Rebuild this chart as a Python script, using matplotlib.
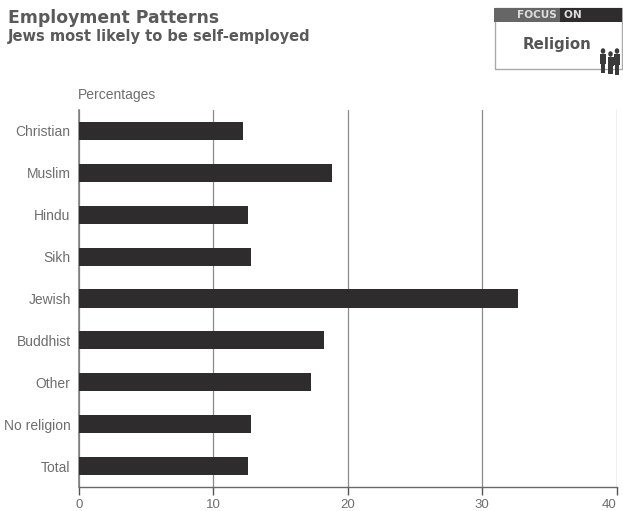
import matplotlib.pyplot as plt
from matplotlib.patches import Rectangle, Ellipse

#Data
religions = ['Christian', 'Muslim', 'Hindu', 'Sikh', 'Jewish', 'Buddhist', 'Other', 'No religion', 'Total']
percentages = [12.2, 18.8, 12.6, 12.8, 32.7, 18.2, 17.3, 12.8, 12.6]
x_ticks = [0, 10, 20, 30, 40]

W, H = 623, 511
dark = '#2e2c2d'
text_grey = '#6e6e6e'
plt.rcParams['font.family'] = 'Liberation Sans'

fig = plt.figure(figsize=(W / 100, H / 100), dpi=100)

# Main chart, placed in pixels of the reference
ax = fig.add_axes([79 / W, 1 - 487 / H, (616.5 - 79) / W, (487 - 110) / H])
ax.barh(range(len(religions)), percentages, height=0.43, color=dark, zorder=3)
ax.set_ylim(8.5, -0.5)
ax.set_xlim(0, 40)
ax.set_xticks(x_ticks)
ax.set_yticks(range(len(religions)))
ax.set_yticklabels(religions)
ax.tick_params(axis='y', length=0, pad=6, labelsize=10, labelcolor=text_grey)
ax.tick_params(axis='x', length=6, width=1, color='#555555', pad=2.5, labelsize=9.5, labelcolor=text_grey)
ax.grid(axis='x', color='#8a8a8a', linewidth=0.9, zorder=1)
for side in ['top', 'right']:
    ax.spines[side].set_visible(False)
ax.spines['left'].set_color('#808080')
ax.spines['left'].set_linewidth(1.2)
ax.spines['bottom'].set_color('#6a6a6a')
ax.spines['bottom'].set_linewidth(1)

# last tick label has to stay inside the picture
ax.get_xticklabels()[-1].set_ha('right')
ax.get_xticklabels()[-1].set_x(40)

# Titles
fig.text(8 / W, 1 - 18 / H, 'Employment Patterns', fontsize=12.4, fontweight='bold', family='DejaVu Sans',
         color='#5a5a5a', va='center', ha='left')
fig.text(8 / W, 1 - 37 / H, 'Jews most likely to be self-employed', fontsize=10.5, fontweight='bold',
         family='DejaVu Sans', color='#5a5a5a', va='center', ha='left')
fig.text(78 / W, 1 - 95 / H, 'Percentages', fontsize=10, color=text_grey, va='center', ha='left')

# Focus on box, drawn in pixel coordinates on an overlay
box = fig.add_axes([0, 0, 1, 1], facecolor='none')
box.set_xlim(0, W)
box.set_ylim(H, 0)
box.axis('off')
box.add_patch(Rectangle((494.5, 8.5), 127.5, 61, facecolor='white', edgecolor='#aaaaaa', linewidth=1))
box.add_patch(Rectangle((494, 8), 128, 14, facecolor=dark, edgecolor='none'))
box.add_patch(Rectangle((494, 8), 66, 14, facecolor='#666666', edgecolor='none'))
box.text(549, 15, 'FOCUS  ON', fontsize=7.6, fontweight='bold', family='DejaVu Sans', color='#dddddd',
         ha='center', va='center')
box.text(556.5, 45, 'Religion', fontsize=10.8, fontweight='bold', family='DejaVu Sans', color='#555555',
         ha='center', va='center')

# Little people icon
for cx, top, h in [(603, 49, 21), (610.5, 52, 19), (617, 49, 23)]:
    box.add_patch(Ellipse((cx, top + 2), 4.5, 5.5, facecolor='#3a3a3a', edgecolor='none'))
    box.add_patch(Rectangle((cx - 3, top + 5), 6, h * 0.5, facecolor='#3a3a3a', edgecolor='none'))
    box.add_patch(Rectangle((cx - 2.2, top + 5 + h * 0.5), 4.4, h * 0.4, facecolor='#3a3a3a', edgecolor='none'))

fig.savefig('out.png', dpi=100)
